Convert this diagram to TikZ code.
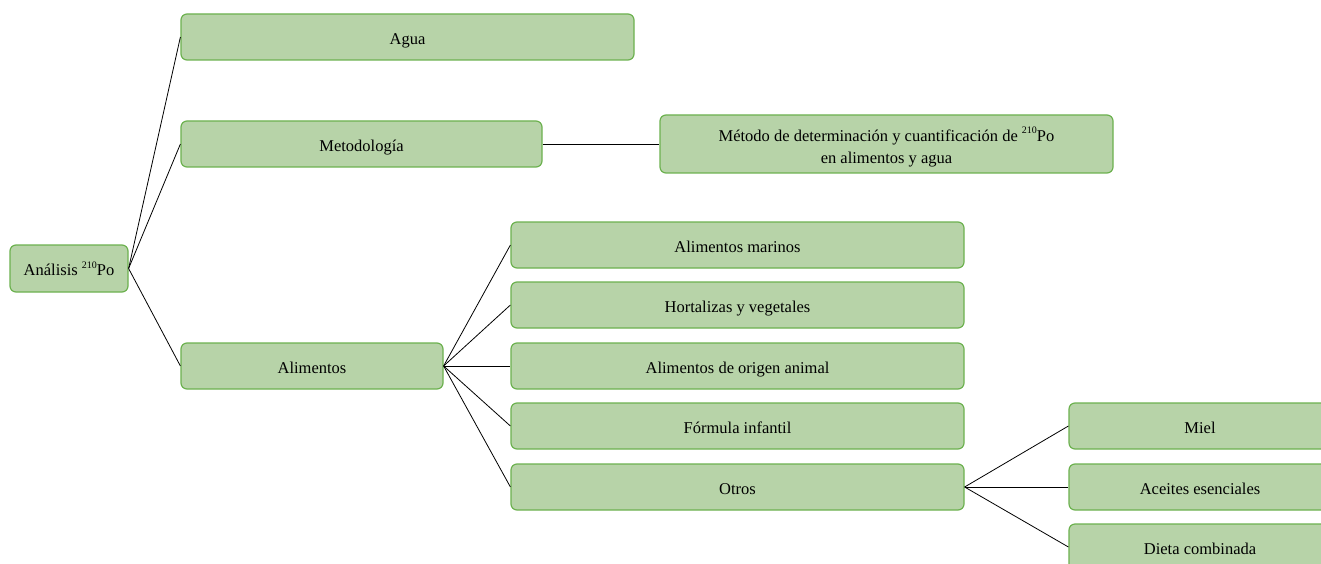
\documentclass[tikz,border=0pt]{standalone}
\usepackage{fontspec}
\setmainfont{Liberation Serif}
\definecolor{boxfill}{HTML}{B7D3A8}
\definecolor{boxline}{HTML}{6CB14F}
% small raised isotope number
\newcommand{\isotope}[1]{\raisebox{0.45em}{\fontsize{10}{10}\selectfont #1}}
\begin{document}
\begin{tikzpicture}[x=1pt,y=-1pt,
  txt/.style={inner sep=0pt,align=center,font=\fontsize{16.5}{22}\selectfont},
  box/.style={txt,draw=boxline,line width=1.2pt,fill=boxfill,rounded corners=6pt,
    text height=14.5pt,text depth=0pt},
  link/.style={draw=black,line width=0.8pt}]
\useasboundingbox (0,0) rectangle (1321,564);
\begin{scope}
\clip (0,0) rectangle (1321,564);
% level 0
\node[box,minimum width=118pt,minimum height=47pt] (root) at (69,268.5) {Análisis \isotope{210}Po};
% level 1
\node[box,minimum width=453pt,minimum height=46pt] (agua) at (407.5,37) {Agua};
\node[box,minimum width=361pt,minimum height=46pt] (metod) at (361.5,144) {Metodología};
\node[box,minimum width=262pt,minimum height=46pt] (alim) at (312,366) {Alimentos};
% level 2
\node[box,minimum width=453pt,minimum height=58pt] (metodo) at (886.5,144) {};
\node[txt] (metodotext) at ([yshift=-3pt]metodo.center)
  {Método de determinación y cuantificación de \isotope{210}Po\\en alimentos y agua};
\node[box,minimum width=453pt,minimum height=46pt] (marinos) at (737.5,245) {Alimentos marinos};
\node[box,minimum width=453pt,minimum height=46pt] (hort) at (737.5,305) {Hortalizas y vegetales};
\node[box,minimum width=453pt,minimum height=46pt] (animal) at (737.5,366) {Alimentos de origen animal};
\node[box,minimum width=453pt,minimum height=46pt] (formula) at (737.5,426) {Fórmula infantil};
\node[box,minimum width=453pt,minimum height=46pt] (otros) at (737.5,487) {Otros};
% level 3
\node[box,minimum width=262pt,minimum height=46pt] (miel) at (1200,426) {Miel};
\node[box,minimum width=262pt,minimum height=46pt] (aceites) at (1200,487) {Aceites esenciales};
\node[box,minimum width=262pt,minimum height=46pt] (dieta) at (1200,547) {Dieta combinada};
% connectors
\foreach \c in {agua,metod,alim} \draw[link] (root.east) -- (\c.west);
\draw[link] (metod.east) -- (metodo.west);
\foreach \c in {marinos,hort,animal,formula,otros} \draw[link] (alim.east) -- (\c.west);
\foreach \c in {miel,aceites,dieta} \draw[link] (otros.east) -- (\c.west);
\end{scope}
\end{tikzpicture}
\end{document}
